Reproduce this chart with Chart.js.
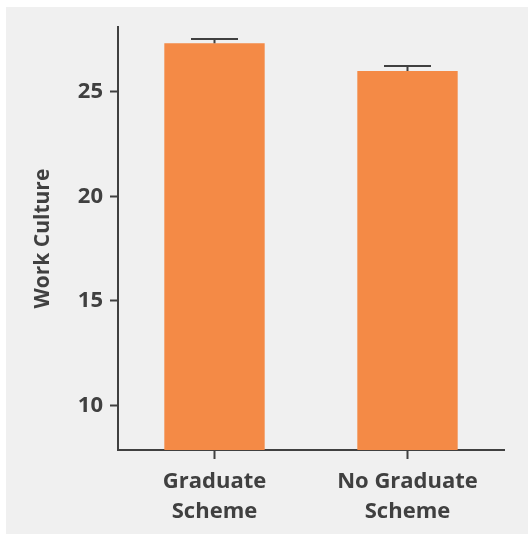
<!DOCTYPE html>
<html>
<head>
<meta charset="utf-8">
<script src="https://cdn.jsdelivr.net/npm/chart.js@4.4.1/dist/chart.umd.min.js"></script>
<style>
    html, body { margin: 0; padding: 0; background: #ffffff; }
    #wrap { position: absolute; left: 6px; top: 7px; width: 522px; height: 527px; }
</style>
</head>
<body>
<div id="wrap"><canvas id="workCultureChart" width="522" height="527"></canvas></div>
<script>
// values
const categories = [['Graduate', 'Scheme'], ['No Graduate', 'Scheme']];
const meanValues = [27.33, 26.0];
const errorValues = [0.21, 0.24];
const yTicks = [10, 15, 20, 25];

const inkColor = '#404040';

// grey panel behind the chart
const panelBackground = {
    id: 'panelBackground',
    beforeDraw(chart) {
        const ctx = chart.ctx;
        ctx.save();
        ctx.fillStyle = '#f0f0f0';
        ctx.fillRect(0, 0, chart.width, chart.height);
        ctx.restore();
    }
};

// upper error bars with a cap
const errorBars = {
    id: 'errorBars',
    afterDatasetsDraw(chart) {
        const ctx = chart.ctx;
        const yScale = chart.scales.y;
        const meta = chart.getDatasetMeta(0);
        ctx.save();
        ctx.strokeStyle = inkColor;
        ctx.lineWidth = 2;
        meta.data.forEach((bar, i) => {
            const top = yScale.getPixelForValue(meanValues[i] + errorValues[i]);
            ctx.beginPath();
            ctx.moveTo(bar.x, bar.y);
            ctx.lineTo(bar.x, top);
            ctx.moveTo(bar.x - 23.5, top);
            ctx.lineTo(bar.x + 23.5, top);
            ctx.stroke();
        });
        ctx.restore();
    }
};

const ctx = document.getElementById('workCultureChart').getContext('2d');
new Chart(ctx, {
    type: 'bar',
    data: {
        labels: categories,
        datasets: [{
            data: meanValues,
            backgroundColor: '#f48a46',
            barPercentage: 0.52,
            categoryPercentage: 1.0
        }]
    },
    options: {
        responsive: false,
        animation: false,
        layout: { padding: { left: 0, top: 18, right: 24, bottom: 0 } },
        plugins: {
            legend: { display: false },
            tooltip: { enabled: false }
        },
        scales: {
            x: {
                grid: { offset: false, drawOnChartArea: false, drawTicks: true, tickLength: 9, tickWidth: 2, tickColor: inkColor },
                border: { display: true, color: inkColor, width: 2 },
                ticks: {
                    color: inkColor,
                    padding: 7,
                    font: { family: 'Open Sans', size: 22, weight: 'bold', lineHeight: 1.4 }
                },
                afterFit(scale) { scale.height = 84; }
            },
            y: {
                min: 7.86,
                max: 28.1,
                grid: { drawOnChartArea: false, drawTicks: true, tickLength: 8, tickWidth: 2, tickColor: inkColor },
                border: { display: true, color: inkColor, width: 2 },
                ticks: {
                    color: inkColor,
                    padding: 7,
                    font: { family: 'Open Sans', size: 22, weight: 'bold' }
                },
                afterBuildTicks(scale) {
                    scale.ticks = yTicks.map(v => ({ value: v }));
                },
                title: {
                    display: true,
                    text: 'Work Culture',
                    color: inkColor,
                    padding: { top: 24, bottom: 0 },
                    font: { family: 'Open Sans', size: 21, weight: 'bold' }
                },
                afterFit(scale) { scale.width = 112; }
            }
        }
    },
    plugins: [panelBackground, errorBars]
});
</script>
</body>
</html>
